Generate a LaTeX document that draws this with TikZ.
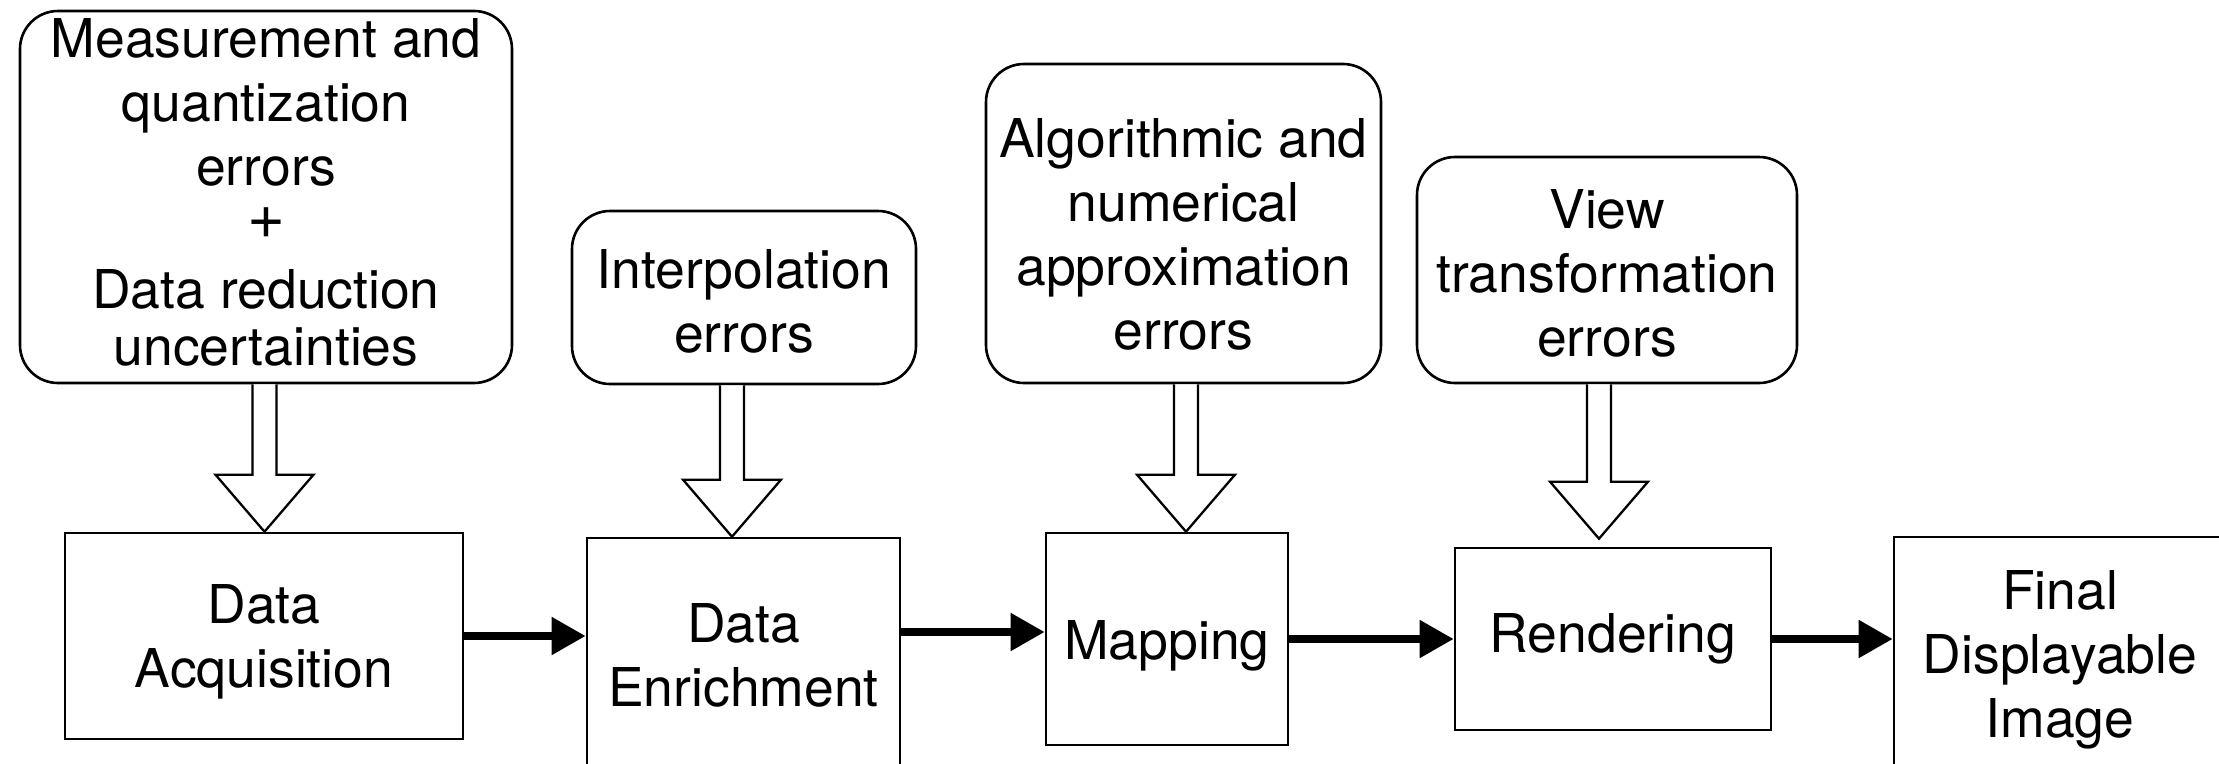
\documentclass[tikz,border=0pt]{standalone}
\usepackage{fontspec}
\setmainfont{TeX Gyre Heros}
\usetikzlibrary{arrows.meta,calc}
\tikzset{
  txt/.style={font=\fontsize{53.5}{64}\selectfont, align=center, inner sep=0pt},
  errbox/.style={txt, draw, line width=2.6pt, rounded corners=38pt},
  stagebox/.style={txt, draw, line width=2.6pt},
  conn/.style={line width=8pt, -{Triangle[length=34pt,width=36pt]}},
  hollow/.style={line width=2.3pt, fill=white, line join=miter},
}
% struts used to nudge the text inside a box down (top) or up (bottom)
\newcommand\topstrut[1]{\rule{0pt}{#1}}
\newcommand\botstrut[1]{\rule[-#1]{0pt}{#1}}
\newcommand\hollowarr[4]{%
  \draw[hollow] let \p1=([xshift=#3]#1.south), \p2=(#2.north) in
    (\x1-12pt,\y1) -- (\x1-12pt,\y2+#4+57pt) -- (\x1-49pt,\y2+#4+57pt) --
    (\x1,\y2+#4) -- (\x1+49pt,\y2+#4+57pt) -- (\x1+12pt,\y2+#4+57pt) -- (\x1+12pt,\y1);}
\begin{document}
\begin{tikzpicture}[x=1pt,y=-1pt]
\useasboundingbox (0,0) rectangle (2219,763);
\clip (0,0) rectangle (2219,763);
% error sources
\node[errbox, minimum width=492pt, minimum height=372pt] (b1) at (266,197)
  {Measurement and\\quantization\\errors\\[-10.5pt]{\fontsize{65}{64}\selectfont +}\\[5.5pt]Data reduction\\[-7pt]uncertainties\botstrut{10.5pt}};
\node[errbox, minimum width=344pt, minimum height=173pt] (b2) at (744,297.5)
  {\topstrut{46.4pt}Interpolation\\errors};
\node[errbox, minimum width=395pt, minimum height=319pt] (b3) at (1183.5,223.5)
  {\topstrut{60.4pt}Algorithmic and\\numerical\\approximation\\errors};
\node[errbox, minimum width=380pt, minimum height=226pt] (b4) at (1607,270)
  {\topstrut{46.4pt}View\\transformation\\errors};
% pipeline stages
\node[stagebox, minimum width=398pt, minimum height=206pt] (da) at (264,636)
  {\topstrut{50.4pt}Data\\Acquisition};
\node[stagebox, minimum width=313pt, minimum height=234pt] (de) at (743.5,655)
  {Data\\Enrichment};
\node[stagebox, minimum width=242pt, minimum height=212pt] (m) at (1167,639)
  {\topstrut{52.4pt}Mapping};
\node[stagebox, minimum width=316pt, minimum height=182pt] (r) at (1613,639)
  {Rendering};
\node[stagebox, minimum width=332pt, minimum height=236pt] (f) at (2060,655)
  {\topstrut{48.4pt}Final\\Displayable\\Image};
% hollow arrows
\hollowarr{b1}{da}{-1.5pt}{0pt}
\hollowarr{b2}{de}{-12pt}{0pt}
\hollowarr{b3}{m}{2.5pt}{0pt}
\hollowarr{b4}{r}{-8pt}{8pt}
% connectors
\draw[conn] (da.east) -- (da.east -| de.west);
\draw[conn] ([yshift=23pt]de.east) -- ([yshift=23pt]de.east -| m.west);
\draw[conn] (m.east) -- (r.west);
\draw[conn] (r.east) -- (r.east -| f.west);
\end{tikzpicture}
\end{document}
